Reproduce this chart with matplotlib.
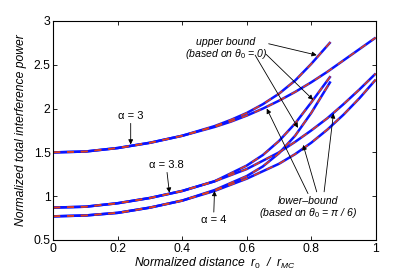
import numpy as np
import matplotlib
matplotlib.use('Agg')
import matplotlib.pyplot as plt

plt.rcParams['font.family'] = ['Liberation Sans', 'DejaVu Sans']
plt.rcParams['mathtext.fontset'] = 'custom'
plt.rcParams['mathtext.rm'] = 'Liberation Sans'
plt.rcParams['mathtext.it'] = 'Liberation Sans:italic'

# alpha = 3
x_a3_up = [0, 0.1, 0.2, 0.3, 0.4, 0.5, 0.55, 0.6, 0.65, 0.7, 0.75, 0.8, 0.86]
y_a3_up = [1.50, 1.51, 1.55, 1.61, 1.69, 1.80, 1.87, 1.95, 2.05, 2.17, 2.32, 2.51, 2.76]
x_a3_lo = [0, 0.1, 0.2, 0.3, 0.4, 0.5, 0.55, 0.6, 0.65, 0.7, 0.75, 0.8, 0.85, 0.9, 0.95, 1.0]
y_a3_lo = [1.50, 1.51, 1.55, 1.61, 1.69, 1.79, 1.85, 1.92, 2.00, 2.09, 2.19, 2.30, 2.42, 2.55, 2.68, 2.81]

# alpha = 3.8
x_a38_up = [0, 0.1, 0.2, 0.3, 0.4, 0.5, 0.6, 0.65, 0.7, 0.75, 0.8, 0.86]
y_a38_up = [0.87, 0.88, 0.92, 0.98, 1.06, 1.17, 1.35, 1.47, 1.63, 1.83, 2.07, 2.37]
x_a38_lo = [0, 0.1, 0.2, 0.3, 0.4, 0.5, 0.6, 0.7, 0.75, 0.8, 0.85, 0.9, 0.95, 1.0]
y_a38_lo = [0.87, 0.88, 0.92, 0.98, 1.06, 1.17, 1.31, 1.50, 1.62, 1.75, 1.89, 2.05, 2.22, 2.40]

# alpha = 4
x_a4_up = [0, 0.1, 0.2, 0.3, 0.4, 0.5, 0.6, 0.65, 0.7, 0.75, 0.8, 0.86]
y_a4_up = [0.77, 0.78, 0.81, 0.87, 0.95, 1.07, 1.23, 1.34, 1.49, 1.69, 1.95, 2.31]
x_a4_lo = [0, 0.1, 0.2, 0.3, 0.4, 0.5, 0.6, 0.7, 0.75, 0.8, 0.85, 0.9, 0.95, 1.0]
y_a4_lo = [0.77, 0.78, 0.81, 0.87, 0.95, 1.06, 1.20, 1.37, 1.48, 1.61, 1.76, 1.93, 2.12, 2.33]

xticks = [0, 0.2, 0.4, 0.6, 0.8, 1]
yticks = [0.5, 1, 1.5, 2, 2.5, 3]

fig = plt.figure(figsize=(4.15, 2.78), dpi=100)
ax = fig.add_axes([0.1285, 0.1367, 0.7768, 0.7878])

curves = [(x_a3_up, y_a3_up), (x_a3_lo, y_a3_lo),
          (x_a38_up, y_a38_up), (x_a38_lo, y_a38_lo),
          (x_a4_up, y_a4_up), (x_a4_lo, y_a4_lo)]
for xs, ys in curves:
    ax.plot(xs, ys, color='#0a14ff', lw=1.8, solid_capstyle='butt')
for xs, ys in curves:
    ax.plot(xs, ys, color='#e0401a', lw=1.1, dashes=(4.5, 4.5))

ax.set_xlim(0, 1)
ax.set_ylim(0.5, 3)
ax.set_xticks(xticks)
ax.set_xticklabels(['0', '0.2', '0.4', '0.6', '0.8', '1'])
ax.set_yticks(yticks)
ax.set_yticklabels(['0.5', '1', '1.5', '2', '2.5', '3'])
ax.tick_params(direction='in', top=True, right=True, length=3, width=0.6,
               labelsize=8.8, pad=2)
for s in ax.spines.values():
    s.set_linewidth(0.8)

ax.set_xlabel(r'Normalized distance  $r_{0}$  /  $r_{MC}$', fontstyle='italic',
              fontsize=8.7, labelpad=1)
ax.set_ylabel('Normalized total interference power', fontstyle='italic',
              fontsize=8.7, labelpad=5)

arrow = dict(arrowstyle='-|>', color='k', lw=0.6, mutation_scale=7,
             shrinkA=0, shrinkB=0)

# alpha labels
ax.annotate('α = 3', xy=(0.24, 1.59), xytext=(0.24, 1.92), ha='center',
            va='center', fontsize=8, arrowprops=arrow)
ax.annotate('α = 3.8', xy=(0.36, 1.04), xytext=(0.35, 1.36), ha='center',
            va='center', fontsize=8, arrowprops=arrow)
ax.annotate('α = 4', xy=(0.5, 1.06), xytext=(0.497, 0.73), ha='center',
            va='center', fontsize=8, arrowprops=arrow)

# upper bound
ax.text(0.535, 2.68, 'upper bound\n(based on θ$_{0}$ = 0)', ha='center',
        va='center', fontsize=7.6, fontstyle='italic', linespacing=1.0)
ax.annotate('', xy=(0.817, 2.61), xytext=(0.668, 2.74), arrowprops=arrow)
ax.annotate('', xy=(0.806, 2.10), xytext=(0.66, 2.62), arrowprops=arrow)
ax.annotate('', xy=(0.759, 1.78), xytext=(0.626, 2.61), arrowprops=arrow)

# lower bound
ax.text(0.79, 0.87, 'lower–bound\n(based on θ$_{0}$ = π / 6)', ha='center',
        va='center', fontsize=7.6, fontstyle='italic', linespacing=1.0)
ax.annotate('', xy=(0.662, 2.00), xytext=(0.79, 1.03), arrowprops=arrow)
ax.annotate('', xy=(0.775, 1.585), xytext=(0.817, 1.05), arrowprops=arrow)
ax.annotate('', xy=(0.869, 1.946), xytext=(0.84, 1.05), arrowprops=arrow)

fig.savefig('out.png', dpi=100)
